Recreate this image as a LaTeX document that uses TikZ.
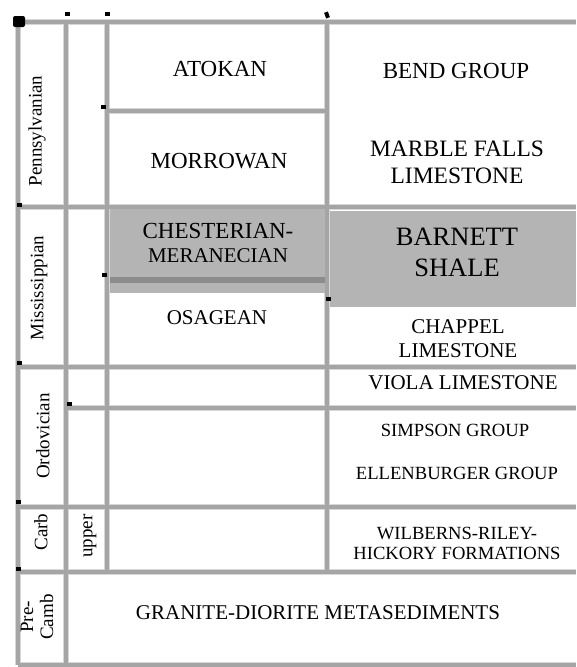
\documentclass[tikz,border=0pt]{standalone}
\usepackage{fontspec}
\setmainfont{Liberation Serif}
\definecolor{lineA}{RGB}{215,215,215}
\definecolor{lineC}{RGB}{165,165,165}
\definecolor{cellgray}{RGB}{180,180,180}
\definecolor{bandgray}{RGB}{140,140,140}
\begin{document}
\begin{tikzpicture}[x=1pt,y=-1pt,
  shade/.style={fill=cellgray},
  blackdot/.style={fill=black},
  gridhalo/.style={line width=6.5pt,color=lineA},
  gridcore/.style={line width=3.5pt,color=lineC},
  big/.style={font=\fontsize{23}{27}\selectfont,align=center,inner sep=0pt},
  mid/.style={font=\fontsize{21}{24}\selectfont,align=center,inner sep=0pt},
  small/.style={font=\fontsize{18.6}{20}\selectfont,align=center,inner sep=0pt},
  side/.style={font=\fontsize{19}{20}\selectfont,align=center,inner sep=0pt,rotate=90}]
\useasboundingbox (0,0) rectangle (576,667);
\def\hlines{22/18/576, 111/107/327, 207/18/576, 367/18/576, 408/66/576, 507/18/576, 572/18/576, 665/18/576}
\def\vlines{18/22/665, 66/22/665, 107/22/572, 327/22/572}
% halo of grid lines
\foreach \y/\a/\b in \hlines {\draw[gridhalo] (\a,\y) -- (\b,\y);}
\foreach \x/\a/\b in \vlines {\draw[gridhalo] (\x,\a) -- (\x,\b);}
% shaded cells
\fill[shade] (110,209) rectangle (325,293);
\fill[shade] (330,211) rectangle (576,307);
\draw[line width=6pt,color=bandgray] (110,280) -- (325,280);
% core of grid lines
\foreach \y/\a/\b in \hlines {\draw[gridcore] (\a,\y) -- (\b,\y);}
\foreach \x/\a/\b in \vlines {\draw[gridcore] (\x,\a) -- (\x,\b);}
% anchor marks
\fill[blackdot,rounded corners=2pt] (13,16) rectangle (25,27);
\foreach \x/\y in {67/14, 107/14, 103/107, 19/205, 104/275, 19/363, 69/404, 328/299, 18/502, 18/569}
  {\fill[blackdot] (\x-2.5,\y-2) rectangle (\x+2.5,\y+2);}
\fill[blackdot,rotate around={20:(327,15)}] (325,12) rectangle (329,18);
% left labels
\node[side] (penn) at (37,131) {Pennsylvanian};
\node[side] (miss) at (39,288) {Mississippian};
\node[side] (ordo) at (43,436) {Ordovician};
\node[side] (carb) at (41,532) {Carb};
\node[side] (upper) at (90,536) {upper};
\node[side] (pre) at (37,617) {Pre-\\Camb};
% stages
\node[big] (atokan) at (220,69) {ATOKAN};
\node[big] (morrowan) at (219,161) {MORROWAN};
\node[big] (chest) at (218,231) {CHESTERIAN-};
\node[mid] (meran) at (218,256) {MERANECIAN};
\node[mid] (osage) at (217,318) {OSAGEAN};
% formations
\node[big] (bend) at (456,71) {BEND GROUP};
\node[big,font=\fontsize{23.5}{27}\selectfont] (marble) at (457,162.5) {MARBLE FALLS\\LIMESTONE};
\node[align=center,inner sep=0pt,font=\fontsize{26.5}{31}\selectfont] (barnett) at (457,252.5) {BARNETT\\SHALE};
\node[mid] (chappel) at (458,339) {CHAPPEL\\LIMESTONE};
\node[mid] (viola) at (463,383) {VIOLA LIMESTONE};
\node[small] (simpson) at (455,430) {SIMPSON GROUP};
\node[small] (ellen) at (457,473) {ELLENBURGER GROUP};
\node[small] (wilb) at (457,543) {WILBERNS-RILEY-\\HICKORY FORMATIONS};
\node[mid] (granite) at (318,613) {GRANITE-DIORITE METASEDIMENTS};
\end{tikzpicture}
\end{document}
